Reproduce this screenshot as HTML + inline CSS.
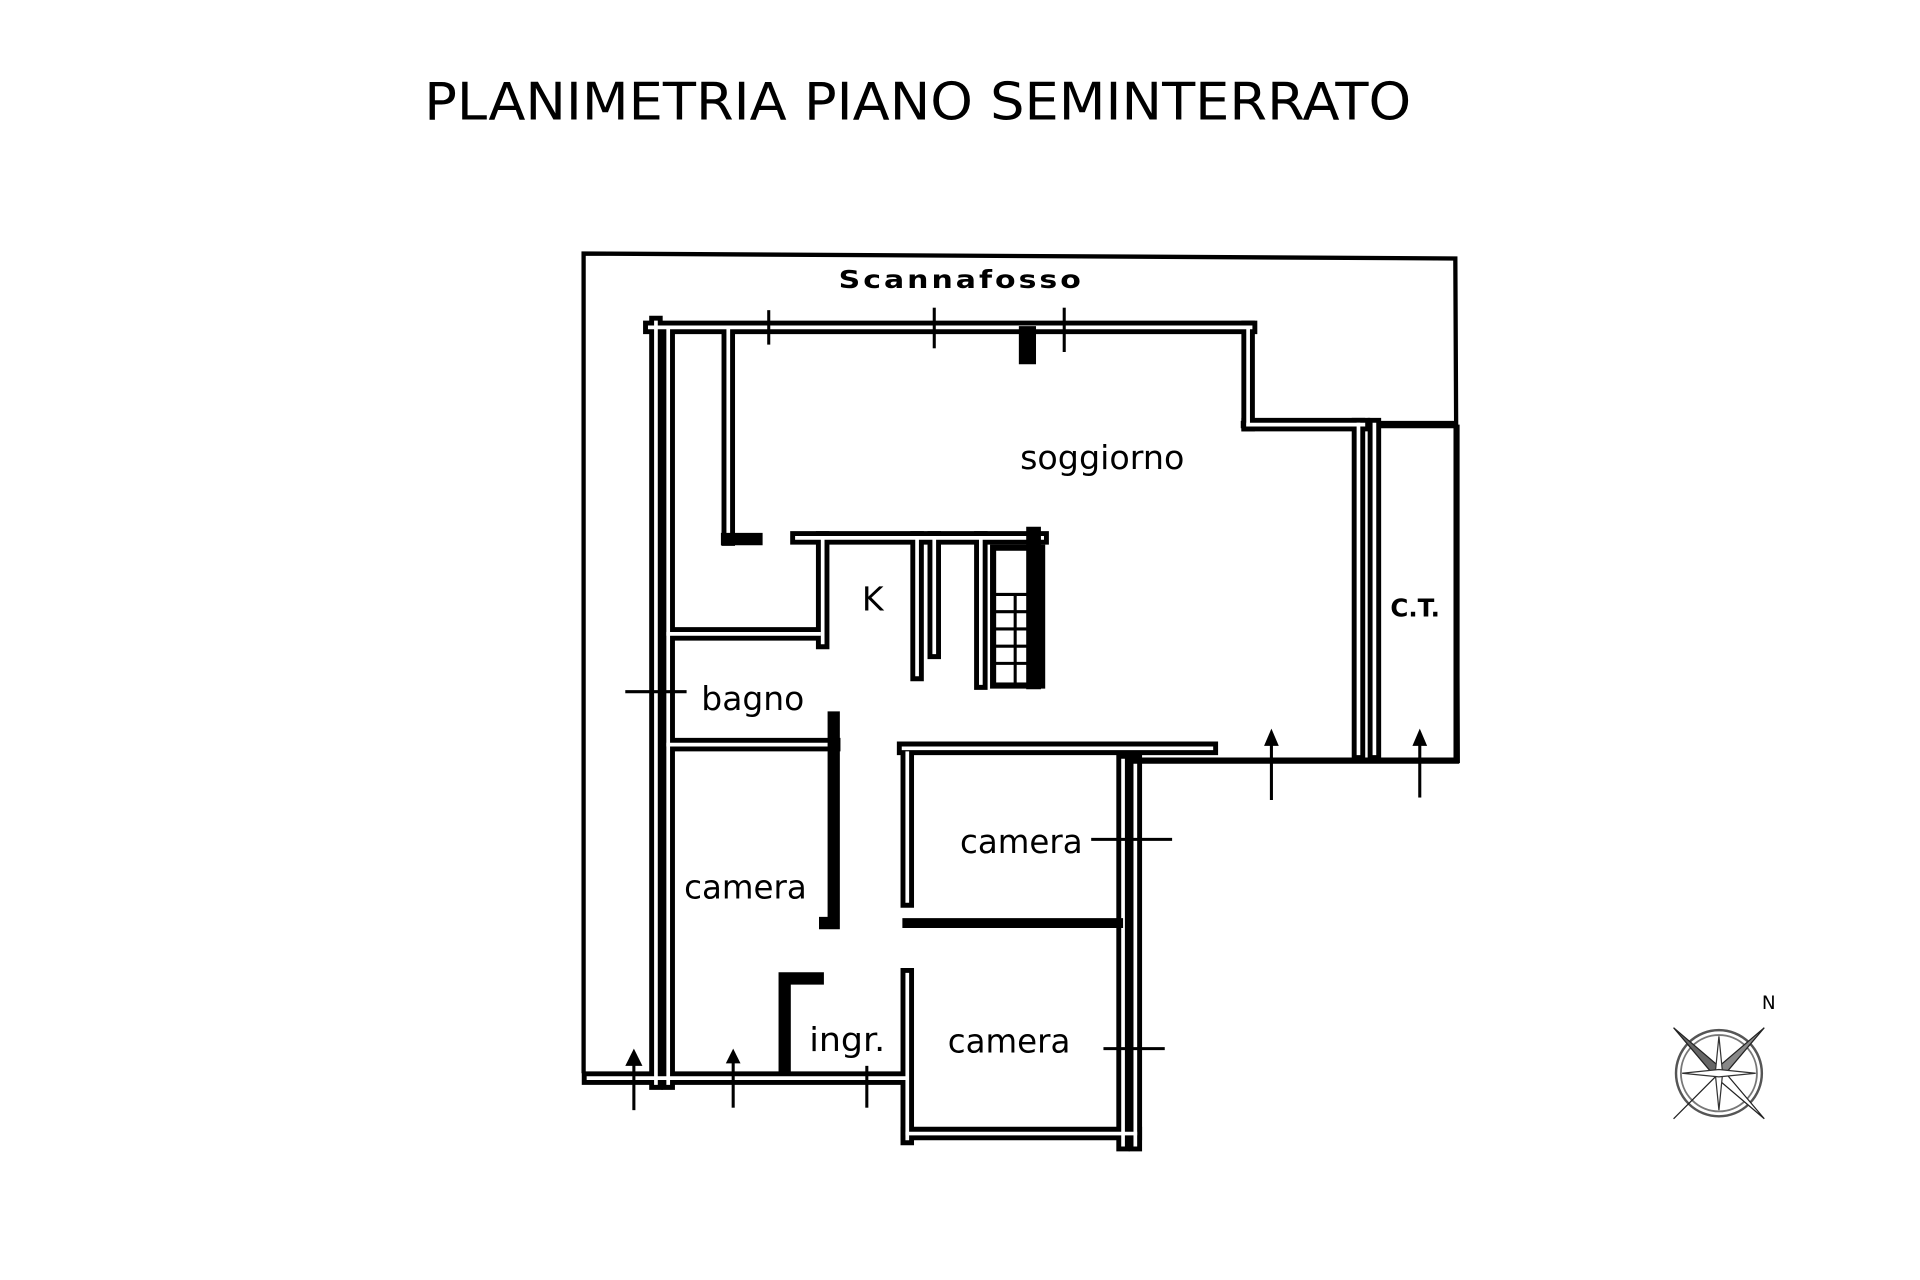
<!DOCTYPE html>
<html><head><meta charset="utf-8"><style>
html,body{margin:0;padding:0;background:#fff;width:1920px;height:1280px;overflow:hidden}
svg{display:block}
text{font-family:"DejaVu Sans","Liberation Sans",sans-serif;fill:#000}
</style></head><body>
<svg width="1920" height="1280" viewBox="0 0 1566 1040" preserveAspectRatio="none" xmlns="http://www.w3.org/2000/svg">
<rect width="1566" height="1040" fill="#fff"/>
<text x="346" y="97" font-size="42" textLength="805" lengthAdjust="spacingAndGlyphs">PLANIMETRIA PIANO SEMINTERRATO</text>
<g stroke="#000" stroke-width="3.5" fill="none">
<polyline points="476,872 476,206 1187,210 1189,620"/>
<line x1="1012" y1="345" x2="1189" y2="345" stroke-width="6"/>
</g>
<text x="684" y="234" font-size="20" font-weight="bold" textLength="200" lengthAdjust="spacingAndGlyphs" letter-spacing="2">Scannafosso</text>
<g id="walls" fill="none" stroke-linecap="square">
<line x1="530" y1="266" x2="1020" y2="266"/>
<line x1="1018" y1="266" x2="1018" y2="345"/>
<line x1="1018" y1="345" x2="1112" y2="345"/>
<line x1="1108" y1="345" x2="1108" y2="612"/>
<line x1="1121" y1="345" x2="1121" y2="612"/>
<line x1="535" y1="262" x2="535" y2="880"/>
<line x1="545" y1="268" x2="545" y2="880"/>
<line x1="594" y1="268" x2="594" y2="438"/>
<line x1="650" y1="437" x2="850" y2="437"/>
<line x1="671" y1="437" x2="671" y2="522"/>
<line x1="748" y1="437" x2="748" y2="548"/>
<line x1="762" y1="437" x2="762" y2="530"/>
<line x1="800" y1="437" x2="800" y2="555"/>
<line x1="545" y1="515" x2="668" y2="515"/>
<line x1="545" y1="605" x2="680" y2="605"/>
<line x1="737" y1="608" x2="988" y2="608"/>
<line x1="740" y1="612" x2="740" y2="732"/>
<line x1="916" y1="618" x2="916" y2="930"/>
<line x1="926" y1="618" x2="926" y2="930"/>
<line x1="740" y1="792" x2="740" y2="925"/>
<line x1="740" y1="921" x2="926" y2="921"/>
<line x1="480" y1="876" x2="738" y2="876"/>
</g>
<use href="#walls" stroke="#000" stroke-width="11"/>
<use href="#walls" stroke="#fff" stroke-width="3"/>
<g stroke="#000" fill="none" stroke-width="5">
<line x1="920" y1="618" x2="1190" y2="618"/>
<line x1="1188" y1="345" x2="1188" y2="620"/>
<line x1="736" y1="750" x2="916" y2="750" stroke-width="8"/>
<polyline points="680,578 680,750 668,750" stroke-width="10"/>
<polyline points="672,795 640,795 640,872" stroke-width="10"/>
<rect x="810" y="445" width="40" height="112" stroke-width="5"/>
<line x1="843" y1="428" x2="843" y2="560" stroke-width="12"/>
<line x1="838" y1="265" x2="838" y2="296" stroke-width="14"/>
<line x1="588" y1="438" x2="622" y2="438" stroke-width="10"/>
</g>
<g stroke="#000" stroke-width="2.5">
<line x1="812" y1="483" x2="845" y2="483"/><line x1="812" y1="497" x2="845" y2="497"/>
<line x1="812" y1="511" x2="845" y2="511"/><line x1="812" y1="525" x2="845" y2="525"/>
<line x1="812" y1="539" x2="845" y2="539"/><line x1="828" y1="483" x2="828" y2="555"/>
<line x1="627" y1="252" x2="627" y2="280"/><line x1="762" y1="250" x2="762" y2="283"/>
<line x1="868" y1="250" x2="868" y2="286"/><line x1="510" y1="562" x2="560" y2="562"/>
<line x1="890" y1="682" x2="956" y2="682"/><line x1="900" y1="852" x2="950" y2="852"/>
<line x1="1037" y1="600" x2="1037" y2="650"/><line x1="1158" y1="600" x2="1158" y2="648"/>
<line x1="517" y1="860" x2="517" y2="902"/><line x1="598" y1="860" x2="598" y2="900"/>
<line x1="707" y1="866" x2="707" y2="900"/>
</g>
<g fill="#000">
<polygon points="1037,592 1031,606 1043,606"/><polygon points="1158,592 1152,606 1164,606"/>
<polygon points="517,852 510,866 524,866"/><polygon points="598,852 592,864 604,864"/>
</g>
<text x="832" y="381" font-size="27" textLength="134" lengthAdjust="spacingAndGlyphs">soggiorno</text>
<text x="703" y="496" font-size="27">K</text>
<text x="1134" y="501" font-size="20" font-weight="bold">C.T.</text>
<text x="572" y="577" font-size="27" textLength="84" lengthAdjust="spacingAndGlyphs">bagno</text>
<text x="783" y="693" font-size="27" textLength="100" lengthAdjust="spacingAndGlyphs">camera</text>
<text x="558" y="730" font-size="27" textLength="100" lengthAdjust="spacingAndGlyphs">camera</text>
<text x="660" y="854" font-size="27" textLength="62" lengthAdjust="spacingAndGlyphs">ingr.</text>
<text x="773" y="855" font-size="27" textLength="100" lengthAdjust="spacingAndGlyphs">camera</text>
<text x="1437" y="820" font-size="15">N</text>
<g transform="translate(1402,872)">
<circle r="35" fill="none" stroke="#555" stroke-width="2"/>
<circle r="31" fill="none" stroke="#777" stroke-width="1.5"/>
<polygon points="-37,-37 -3,3 3,-3" fill="#666" stroke="#222" stroke-width="1"/>
<polygon points="37,-37 3,3 -3,-3" fill="#888" stroke="#222" stroke-width="1"/>
<polygon points="37,37 -3,3 3,-3" fill="#fff" stroke="#222" stroke-width="1"/>
<polygon points="-37,37 3,-3 -3,3" fill="#777" stroke="#222" stroke-width="1"/>
<polygon points="0,-30 -3,0 0,30 3,0" fill="#fff" stroke="#333" stroke-width="1"/>
<polygon points="-30,0 0,-3 30,0 0,3" fill="#fff" stroke="#333" stroke-width="1"/>
</g>
</svg>
</body></html>
